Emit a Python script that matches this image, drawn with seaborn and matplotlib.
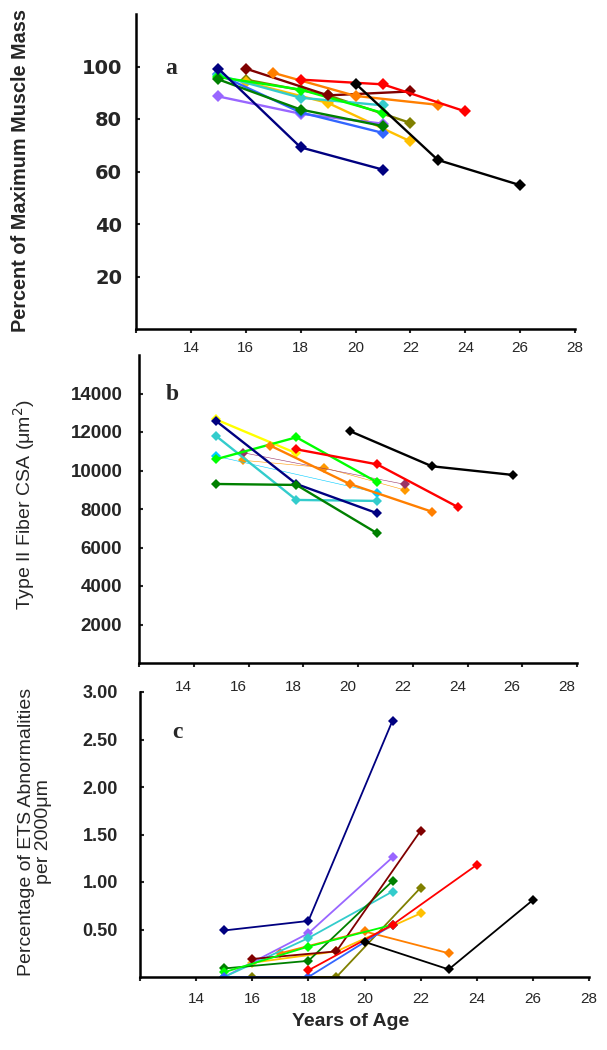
import matplotlib
matplotlib.use('Agg')
import matplotlib.pyplot as plt
import matplotlib.transforms as mtransforms
import seaborn as sns

# colours used for each subject
colors = {
    'navy': '#000080', 'maroon': '#800000', 'red': '#FF0000', 'orange': '#FF7F00',
    'black': '#000000', 'olive': '#808000', 'gold': '#FFC000', 'turquoise': '#33CCCC',
    'lime': '#00FF00', 'green': '#008000', 'purple': '#9966FF', 'blue': '#3366FF',
    'yellow': '#FFFF00', 'skyblue': '#00CCFF', 'plum': '#993366', 'sandy': '#FF9900',
}

# panel a: percent of maximum muscle mass
mass_ages = {
    'olive': [16, 19, 22], 'gold': [16, 19, 22], 'purple': [15, 18, 21],
    'blue': [15, 18, 21], 'turquoise': [15, 18, 21], 'lime': [15, 18, 21],
    'green': [15, 18, 21], 'navy': [15, 18, 21], 'maroon': [16, 19, 22],
    'orange': [17, 20, 23], 'red': [18, 21, 24], 'black': [20, 23, 26],
}
mass_vals = {
    'olive': [95.0, 89.0, 78.5], 'gold': [94.1, 86.1, 71.5], 'purple': [88.6, 82.0, 78.2],
    'blue': [97.0, 82.5, 74.7], 'turquoise': [96.7, 88.1, 85.2], 'lime': [96.0, 91.2, 82.3],
    'green': [95.1, 83.6, 77.3], 'navy': [99.2, 69.2, 60.7], 'maroon': [99.2, 89.0, 90.5],
    'orange': [97.6, 88.8, 85.4], 'red': [95.0, 93.2, 82.9], 'black': [93.5, 64.4, 54.8],
}

# panel b: type II fiber CSA
csa_ages = {
    'sandy': [15.8, 18.75, 21.7], 'plum': [15.8, 21.7], 'skyblue': [14.8, 20.7],
    'yellow': [14.8, 17.75], 'turquoise': [14.8, 17.75, 20.7], 'lime': [14.8, 17.75, 20.7],
    'navy': [14.8, 17.75, 20.7], 'green': [14.8, 17.75, 20.7], 'orange': [16.8, 19.7, 22.7],
    'red': [17.75, 20.7, 23.65], 'black': [19.7, 22.7, 25.65],
}
csa_vals = {
    'sandy': [10530, 10150, 8990], 'plum': [10925, 9283], 'skyblue': [10750, 8850],
    'yellow': [12660, 10894], 'turquoise': [11810, 8470, 8420], 'lime': [10580, 11725, 9390],
    'navy': [12590, 9300, 7780], 'green': [9300, 9250, 6740], 'orange': [11290, 9300, 7860],
    'red': [11100, 10320, 8100], 'black': [12050, 10220, 9770],
}
thin_series = ['sandy', 'plum', 'skyblue']

# panel c: ETS abnormalities
ets_ages = {
    'olive': [16, 19, 22], 'gold': [16, 19, 22], 'orange': [17, 20, 23],
    'purple': [15, 18, 21], 'turquoise': [15, 18, 21], 'green': [15, 18, 21],
    'maroon': [16, 19, 22], 'lime': [15, 18, 21], 'blue': [15, 18, 21],
    'red': [18, 21, 24], 'black': [20, 23, 26], 'navy': [15, 18, 21],
}
ets_vals = {
    'olive': [0.0, 0.0, 0.94], 'gold': [0.15, 0.27, 0.67], 'orange': [0.25, 0.48, 0.25],
    'purple': [0.0, 0.46, 1.26], 'turquoise': [0.0, 0.41, 0.90], 'green': [0.09, 0.17, 1.01],
    'maroon': [0.19, 0.27, 1.54], 'lime': [0.05, 0.32, 0.55], 'blue': [0.0, 0.0, 0.55],
    'red': [0.07, 0.55, 1.18], 'black': [0.37, 0.08, 0.81], 'navy': [0.49, 0.59, 2.70],
}

x_ticks = [12, 14, 16, 18, 20, 22, 24, 26, 28]
x_labels = ['', '14', '16', '18', '20', '22', '24', '26', '28']
mass_ticks = [20, 40, 60, 80, 100]
csa_ticks = [2000, 4000, 6000, 8000, 10000, 12000, 14000]
ets_ticks = [0.5, 1.0, 1.5, 2.0, 2.5, 3.0]

sns.set_style('ticks')
plt.rcParams['font.family'] = ['Liberation Sans', 'DejaVu Sans']

fig = plt.figure(figsize=(6.07, 10.5), dpi=100)
ax_a = fig.add_axes([136 / 607, 1 - 329 / 1050, 439 / 607, 315 / 1050])
ax_b = fig.add_axes([139 / 607, 1 - 663 / 1050, 438 / 607, 308 / 1050])
ax_c = fig.add_axes([140 / 607, 1 - 977 / 1050, 449 / 607, 285 / 1050])


def draw_series(ax, ages, vals, lw, ms, thin=()):
    for key in ages:
        sns.lineplot(x=ages[key], y=vals[key], ax=ax, color=colors[key],
                     linewidth=0.4 if key in thin else lw, marker='D',
                     markersize=ms, markeredgewidth=0, legend=False)


def style_axis(ax):
    sns.despine(ax=ax)
    for side in ['left', 'bottom']:
        ax.spines[side].set_linewidth(1.8)
        ax.spines[side].set_color('black')
    ax.set_xlim(12, 28)
    ax.set_xticks(x_ticks, labels=x_labels, fontsize=11)
    ax.tick_params(axis='x', direction='out', length=3, width=1.5, pad=6)
    ax.tick_params(axis='y', direction='in', length=3, width=1.5)
    ax.set_xlabel('')
    ax.set_ylabel('')


draw_series(ax_a, mass_ages, mass_vals, 1.7, 5.8)
style_axis(ax_a)
ax_a.set_ylim(0, 120)
ax_a.set_yticks(mass_ticks, labels=[str(t) for t in mass_ticks],
                fontsize=14, fontweight='bold', family='DejaVu Sans')
ax_a.tick_params(axis='y', pad=10)

draw_series(ax_b, csa_ages, csa_vals, 1.7, 5.2, thin=thin_series)
style_axis(ax_b)
ax_b.set_ylim(0, 16000)
ax_b.set_yticks(csa_ticks, labels=[str(t) for t in csa_ticks], fontsize=13.5, fontweight='bold')
ax_b.tick_params(axis='y', pad=12)
ax_b.tick_params(axis='x', pad=9)
shift = mtransforms.ScaledTranslation(-0.10, 0, fig.dpi_scale_trans)
for lab in ax_b.get_xticklabels():
    lab.set_transform(lab.get_transform() + shift)

draw_series(ax_c, ets_ages, ets_vals, 1.3, 5.2)
style_axis(ax_c)
ax_c.set_ylim(0, 3.0)
ax_c.set_yticks(ets_ticks, labels=[f'{t:.2f}' for t in ets_ticks], fontsize=13, fontweight='bold')
ax_c.tick_params(axis='y', pad=16)
ax_c.tick_params(axis='x', pad=8)

# panel letters
fig.text(171 / 607, 1 - 69 / 1050, 'a', fontsize=17, fontweight='bold',
         family='Liberation Serif', ha='center', va='center')
fig.text(172 / 607, 1 - 395 / 1050, 'b', fontsize=17, fontweight='bold',
         family='Liberation Serif', ha='center', va='center')
fig.text(177 / 607, 1 - 733 / 1050, 'c', fontsize=17, fontweight='bold',
         family='Liberation Serif', ha='center', va='center')

# axis titles
fig.text(21 / 607, 1 - 171 / 1050, 'Percent of Maximum Muscle Mass', rotation=90,
         fontsize=14.3, fontweight='bold', ha='center', va='center')
fig.text(24 / 607, 1 - 505 / 1050, 'Type II Fiber CSA (μm$^2$)', rotation=90,
         fontsize=14, ha='center', va='center')
fig.text(35 / 607, 1 - 832 / 1050, 'Percentage of ETS Abnormalities\nper 2000μm', rotation=90,
         fontsize=14, ha='center', va='center', linespacing=1.05)
fig.text(351 / 607, 1 - 1021 / 1050, 'Years of Age', fontsize=14, fontweight='bold',
         ha='center', va='center')

fig.savefig('out.png', dpi=100)
